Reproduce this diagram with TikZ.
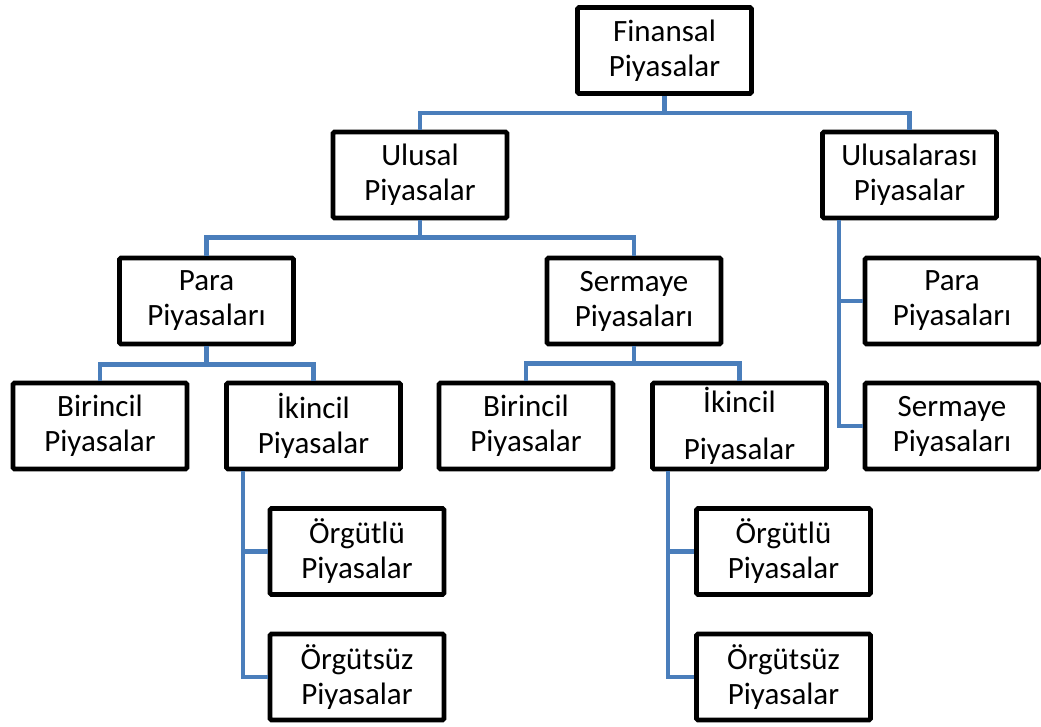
\documentclass[tikz,border=0pt]{standalone}
\usepackage{fontspec}
\setmainfont{Carlito}
\definecolor{conn}{HTML}{4A7EBB}
\begin{document}
\begin{tikzpicture}[x=1pt,y=-1pt,
  box/.style={draw=black,line width=4.8pt,fill=white,rounded corners=1.5pt,
    minimum width=174pt,minimum height=86pt,inner sep=0pt,align=center,
    font=\fontsize{31}{35}\selectfont},
  wire/.style={draw=conn,line width=4.5pt}]
\useasboundingbox (0,0) rectangle (1041,727);
% nodes
\node[box] (fin)   at (664.5,50.5) {Finansal\\Piyasalar};
\node[box] (ulu)   at (420,175)    {Ulusal\\Piyasalar};
\node[box] (int)   at (909.5,175)  {Ulusalarası\\Piyasalar};
\node[box] (para)  at (206.5,301)  {Para\\Piyasaları};
\node[box] (serm)  at (634,301)    {Sermaye\\Piyasaları};
\node[box] (bir1)  at (100,426)    {Birincil\\Piyasalar};
\node[box] (iki1)  at (313.5,426)  {İkincil\\Piyasalar};
\node[box] (bir2)  at (526,426)    {Birincil\\Piyasalar};
\node[box,font=\fontsize{31}{47}\selectfont] (iki2) at (739.5,426) {İkincil\\[0pt]Piyasalar};
\node[box] (para3) at (952,301)    {Para\\Piyasaları};
\node[box] (serm3) at (952,426)    {Sermaye\\Piyasaları};
\node[box] (org1)  at (357,551.5)  {Örgütlü\\Piyasalar};
\node[box] (orgs1) at (357,677)    {Örgütsüz\\Piyasalar};
\node[box] (org2)  at (783.5,551.5) {Örgütlü\\Piyasalar};
\node[box] (orgs2) at (783.5,677)  {Örgütsüz\\Piyasalar};
% connectors
\draw[wire] (fin.south) -- ++(0,17) -| (ulu.north);
\draw[wire] (fin.south) -- ++(0,17) -| (int.north);
\draw[wire] (ulu.south) -- ++(0,17) -| (para.north);
\draw[wire] (ulu.south) -- ++(0,17) -| (serm.north);
\draw[wire] (para.south) -- ++(0,18) -| (bir1.north);
\draw[wire] (para.south) -- ++(0,18) -| (iki1.north);
\draw[wire] (serm.south) -- ++(0,17) -| (bir2.north);
\draw[wire] (serm.south) -- ++(0,17) -| (iki2.north);
\coordinate (intA) at ([xshift=19pt]int.south west);
\draw[wire] (intA) |- (para3.west);
\draw[wire] (intA) |- (serm3.west);
\coordinate (ikiA) at ([xshift=19pt]iki1.south west);
\draw[wire] (ikiA) |- (org1.west);
\draw[wire] (ikiA) |- (orgs1.west);
\coordinate (ikiB) at ([xshift=18pt]iki2.south west);
\draw[wire] (ikiB) |- (org2.west);
\draw[wire] (ikiB) |- (orgs2.west);
\end{tikzpicture}
\end{document}
